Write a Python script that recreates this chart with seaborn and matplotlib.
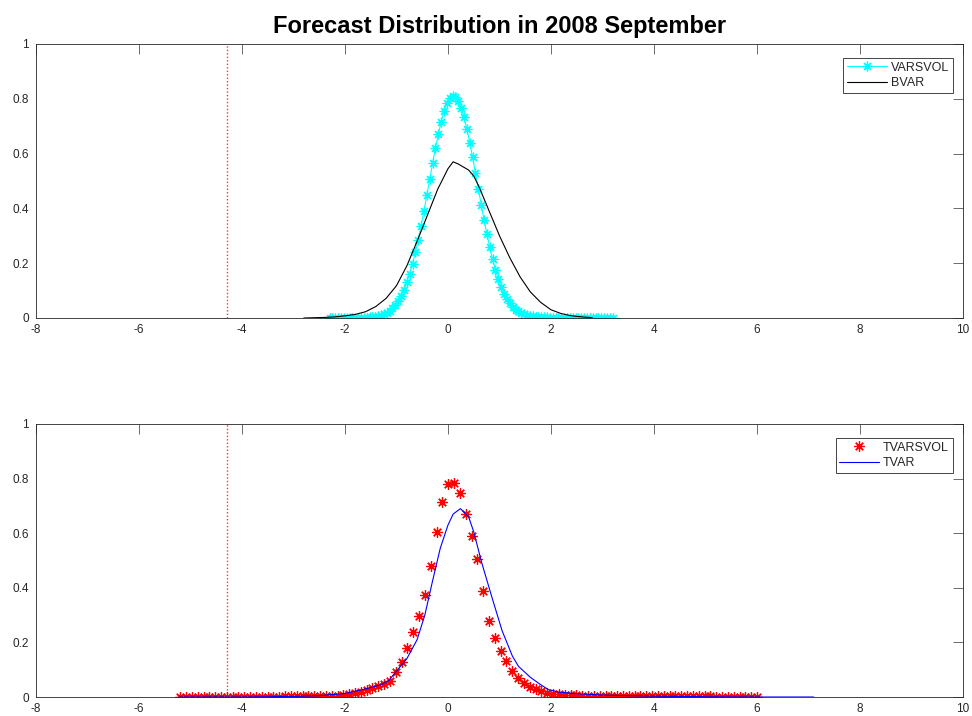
import matplotlib
matplotlib.use('Agg')
import matplotlib.pyplot as plt
import numpy as np
import pandas as pd
import seaborn as sns

# top panel: VARSVOL (kernel density on 100-point grid) and BVAR
varsvol_start, varsvol_stop = -2.3, 3.2
varsvol_y = [
    0, 0, 0, 0, 0, 0.0001, 0.0001, 0.0002, 0.0003, 0.0004,
    0.0005, 0.0007, 0.001, 0.0014, 0.0021, 0.0031, 0.0046, 0.0067, 0.0096, 0.0136,
    0.019, 0.026, 0.035, 0.047, 0.062, 0.080, 0.102, 0.130, 0.161, 0.198,
    0.240, 0.286, 0.337, 0.391, 0.449, 0.506, 0.564, 0.620, 0.670, 0.716,
    0.754, 0.783, 0.802, 0.810, 0.806, 0.792, 0.767, 0.732, 0.689, 0.640,
    0.586, 0.530, 0.472, 0.414, 0.359, 0.306, 0.258, 0.214, 0.176, 0.141,
    0.113, 0.089, 0.069, 0.053, 0.040, 0.031, 0.024, 0.018, 0.014, 0.011,
    0.008, 0.006, 0.005, 0.004, 0.003, 0.002, 0.002, 0.0015, 0.001, 0.001,
    0.0008, 0.0006, 0.0005, 0.0004, 0.0003, 0.0002, 0.0002, 0.0001, 0.0001, 0.0001,
    0, 0, 0, 0, 0, 0, 0, 0, 0, 0,
]

bvar_x = [-2.8, -2.6, -2.4, -2.2, -2.0, -1.8, -1.6, -1.4, -1.2, -1.0,
          -0.8, -0.6, -0.4, -0.2, 0.0, 0.1, 0.2, 0.4, 0.5, 0.6,
          0.8, 1.0, 1.2, 1.4, 1.6, 1.8, 2.0, 2.2, 2.4, 2.6, 2.8]
bvar_y = [0.000, 0.001, 0.002, 0.004, 0.008, 0.013, 0.023, 0.042, 0.072, 0.118,
          0.190, 0.280, 0.375, 0.470, 0.545, 0.570, 0.562, 0.540, 0.518, 0.480,
          0.390, 0.300, 0.220, 0.150, 0.095, 0.057, 0.030, 0.016, 0.008, 0.004, 0.001]

# bottom panel: TVARSVOL (100-point grid) and TVAR
tvarsvol_start, tvarsvol_stop = -5.2, 6.0
tvarsvol_y = [
    0.001, 0.001, 0.001, 0.001, 0.001, 0.001, 0.001, 0.001, 0.001, 0.001,
    0.001, 0.001, 0.001, 0.001, 0.001, 0.001, 0.001, 0.001, 0.002, 0.002,
    0.002, 0.002, 0.002, 0.003, 0.003, 0.003, 0.004, 0.005, 0.007, 0.010,
    0.014, 0.019, 0.025, 0.032, 0.040, 0.048, 0.057, 0.090, 0.129, 0.179,
    0.238, 0.298, 0.374, 0.480, 0.606, 0.714, 0.780, 0.783, 0.748, 0.669,
    0.590, 0.507, 0.388, 0.280, 0.217, 0.168, 0.133, 0.095, 0.070, 0.052,
    0.038, 0.028, 0.021, 0.016, 0.012, 0.010, 0.008, 0.007, 0.006, 0.005,
    0.005, 0.004, 0.004, 0.004, 0.003, 0.003, 0.003, 0.003, 0.003, 0.002,
    0.002, 0.002, 0.002, 0.002, 0.002, 0.002, 0.002, 0.002, 0.002, 0.002,
    0.002, 0.002, 0.001, 0.001, 0.001, 0.001, 0.001, 0.001, 0.001, 0.001,
]

tvar_x = [-5.2, -4.0, -3.0, -2.5, -2.0, -1.6, -1.3, -1.15, -1.0, -0.8,
          -0.6, -0.45, -0.3, -0.15, 0.0, 0.1, 0.24, 0.4, 0.5, 0.65,
          0.85, 1.05, 1.25, 1.37, 1.6, 1.8, 1.95, 2.15, 2.5, 3.0,
          4.0, 5.0, 6.0, 7.1]
tvar_y = [0.000, 0.000, 0.002, 0.005, 0.013, 0.030, 0.045, 0.060, 0.095, 0.140,
          0.210, 0.300, 0.425, 0.545, 0.630, 0.670, 0.690, 0.660, 0.605, 0.495,
          0.367, 0.243, 0.150, 0.112, 0.072, 0.045, 0.027, 0.018, 0.012, 0.007,
          0.003, 0.001, 0.000, 0.000]

realized_value = -4.3
x_ticks = [-8, -6, -4, -2, 0, 2, 4, 6, 8, 10]
y_ticks = [0, 0.2, 0.4, 0.6, 0.8, 1]
title = 'Forecast Distribution in 2008 September'

top_df = pd.DataFrame({'x': np.linspace(varsvol_start, varsvol_stop, len(varsvol_y)), 'y': varsvol_y})
bot_df = pd.DataFrame({'x': np.linspace(tvarsvol_start, tvarsvol_stop, len(tvarsvol_y)), 'y': tvarsvol_y})

sns.set_style('white')
plt.rcParams['font.family'] = ['Liberation Sans', 'DejaVu Sans']

fig = plt.figure(figsize=(9.72, 7.16), dpi=100)
ax1 = fig.add_axes([36 / 972, 1 - 318 / 716, 927 / 972, 274 / 716])
ax2 = fig.add_axes([36 / 972, 1 - 697 / 716, 927 / 972, 273 / 716])

asterisk = (8, 2, 0)

sns.lineplot(data=top_df, x='x', y='y', ax=ax1, color='cyan', lw=0.8, marker=asterisk,
             markersize=7, markeredgewidth=0.9, markeredgecolor='cyan',
             estimator=None, sort=False, label='VARSVOL')
sns.lineplot(x=bvar_x, y=bvar_y, ax=ax1, color='black', lw=0.8,
             estimator=None, sort=False, label='BVAR')

sns.lineplot(data=bot_df, x='x', y='y', ax=ax2, color='red', linestyle='none', marker=asterisk,
             markersize=7.5, markeredgewidth=0.9, markeredgecolor='red',
             estimator=None, sort=False, label='TVARSVOL')
sns.lineplot(x=tvar_x, y=tvar_y, ax=ax2, color='blue', lw=0.8,
             estimator=None, sort=False, label='TVAR')

for ax in (ax1, ax2):
    ax.axvline(realized_value, color='red', linestyle=(0, (1, 1.5)), lw=1.0, alpha=0.8)
    ax.set_xlim(-8, 10)
    ax.set_ylim(0, 1)
    ax.set_xticks(x_ticks)
    ax.set_yticks(y_ticks)
    ax.set_xticklabels([f'{t:g}' for t in x_ticks])
    ax.set_yticklabels([f'{t:g}' for t in y_ticks])
    ax.set_xlabel('')
    ax.set_ylabel('')
    ax.tick_params(direction='in', length=7, width=0.5, color='0.2',
                   labelsize=8.5, labelcolor='0.15', top=True, right=True)
    ax.tick_params(axis='x', pad=4.5)
    ax.tick_params(axis='y', pad=5)
    for sp in ax.spines.values():
        sp.set_visible(True)
        sp.set_color('0.15')
        sp.set_linewidth(0.6)
    leg = ax.legend(loc='upper right', bbox_to_anchor=(0.989, 0.949), borderaxespad=0,
                    fontsize=9, fancybox=False, framealpha=1, edgecolor='0.15',
                    handlelength=3.2, handletextpad=0.3, borderpad=0.3, labelspacing=0.3)
    leg.get_frame().set_linewidth(0.6)

fig.text(500 / 972, 1 - 26 / 716, title, ha='center', va='center',
         fontsize=17, fontweight='bold', color='black')

fig.savefig('out.png', dpi=100)
